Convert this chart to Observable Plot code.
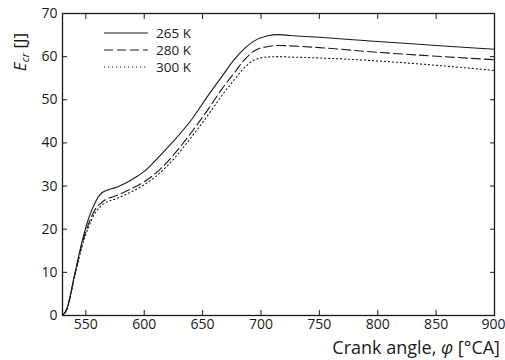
<!DOCTYPE html>
<html>
<head>
<meta charset="utf-8">
<script src="https://cdn.jsdelivr.net/npm/d3@7"></script>
<script src="https://cdn.jsdelivr.net/npm/@observablehq/plot@0.6"></script>
<style>
  html, body { margin: 0; padding: 0; background: #fff; }
  #wrap { position: relative; width: 505px; height: 360px; }
  svg { font-family: "Open Sans", sans-serif; }
</style>
</head>
<body>
<div id="wrap"></div>
<script>
const angles = [530, 534, 540, 547, 552, 558, 564, 577, 590, 600, 614, 626, 640, 656, 666, 677, 685, 694, 705, 715, 725, 750, 800, 850, 900];
const e265 = [0, 1.8, 9.0, 17.4, 22.2, 26.2, 28.5, 29.8, 31.6, 33.4, 37.2, 40.7, 45.2, 51.5, 55.2, 59.3, 61.7, 63.6, 64.8, 65.1, 64.9, 64.5, 63.5, 62.6, 61.7];
const e280 = [0, 1.6, 8.8, 16.8, 21.0, 24.6, 26.3, 27.9, 29.5, 31.0, 34.0, 37.5, 42.3, 48.3, 52.3, 56.2, 59.0, 61.3, 62.3, 62.6, 62.5, 62.1, 61.0, 60.1, 59.3];
const e300 = [0, 1.5, 8.5, 16.2, 20.3, 23.8, 25.6, 27.2, 28.8, 30.3, 33.2, 36.5, 41.2, 47.0, 50.8, 54.6, 57.2, 59.2, 59.9, 60.0, 59.9, 59.7, 59.0, 58.0, 56.8];
const seriesNames = ["265 K", "280 K", "300 K"];
const dashes = ["none", "9,4", "1.2,2.8"];
const xTicks = [550, 600, 650, 700, 750, 800, 850, 900];
const yTicks = [0, 10, 20, 30, 40, 50, 60, 70];

const allSeries = [e265, e280, e300];
const rows = [];
allSeries.forEach((vals, s) => angles.forEach((a, i) => rows.push({series: seriesNames[s], angle: a, E: vals[i]})));

const W = 505, H = 360;
const mL = 62, mR = 11, mT = 13, mB = 45;
const ink = "#1a1a1a";

const marks = seriesNames.map((name, s) =>
  Plot.line(rows.filter(d => d.series === name), {
    x: "angle", y: "E", stroke: ink, strokeWidth: 1.1,
    strokeDasharray: dashes[s], curve: "monotone-x"
  })
);

const chart = Plot.plot({
  width: W, height: H,
  marginLeft: mL, marginRight: mR, marginTop: mT, marginBottom: mB,
  style: {fontFamily: "Open Sans, sans-serif", fontSize: "14px", color: ink, background: "#fff", overflow: "visible"},
  x: {domain: [530, 900], label: null},
  y: {domain: [0, 70], label: null},
  marks: [
    ...marks,
    Plot.axisX(xTicks, {anchor: "bottom", tickSize: 5, dy: -5, text: null, stroke: ink}),
    Plot.axisX(xTicks, {anchor: "top", tickSize: 5, dy: 5, text: null, stroke: ink}),
    Plot.axisY(yTicks, {anchor: "left", tickSize: 5, dx: 5, text: null, stroke: ink}),
    Plot.axisY(yTicks, {anchor: "right", tickSize: 5, dx: -5, text: null, stroke: ink}),
    Plot.axisX(xTicks.slice(0, -1), {anchor: "bottom", tickSize: 0, tickPadding: 4, fontSize: 14, fill: ink}),
    Plot.axisX(xTicks.slice(-1), {anchor: "bottom", tickSize: 0, tickPadding: 4, fontSize: 14, fill: ink, textAnchor: "end", dx: 11}),
    Plot.axisY(yTicks, {anchor: "left", tickSize: 0, tickPadding: 5, fontSize: 14, fill: ink}),
    Plot.frame({stroke: ink, strokeWidth: 1.3})
  ]
});

document.getElementById("wrap").appendChild(chart);

const svg = d3.select(chart);
// y label
const yl = svg.append("text")
  .attr("transform", `translate(26,52) rotate(-90)`)
  .style("text-anchor", "middle")
  .style("font-size", "17px").attr("fill", ink);
yl.append("tspan").style("font-style", "italic").style("font-size", "17px").text("E");
yl.append("tspan").style("font-style", "italic").style("font-size", "11px").attr("dy", 3).text("cr");
yl.append("tspan").style("font-size", "17px").attr("dy", -3).text(" [J]");
// x label
const xl = svg.append("text")
  .attr("x", W - 5).attr("y", H - 6)
  .style("text-anchor", "end")
  .style("font-size", "18px").attr("fill", ink);
xl.append("tspan").text("Crank angle, ");
xl.append("tspan").style("font-style", "italic").text("φ");
xl.append("tspan").text(" [°CA]");

// legend
const lg = svg.append("g");
seriesNames.forEach((name, s) => {
  const y = 33 + s * 17;
  lg.append("line").attr("x1", 104).attr("x2", 148).attr("y1", y).attr("y2", y)
    .attr("stroke", ink).attr("stroke-width", 1.1)
    .attr("stroke-dasharray", dashes[s]);
  lg.append("text").attr("x", 156).attr("y", y).attr("dy", "0.35em")
    .style("text-anchor", "start")
    .style("font-size", "13.5px").attr("fill", ink).text(name);
});
</script>
</body>
</html>
